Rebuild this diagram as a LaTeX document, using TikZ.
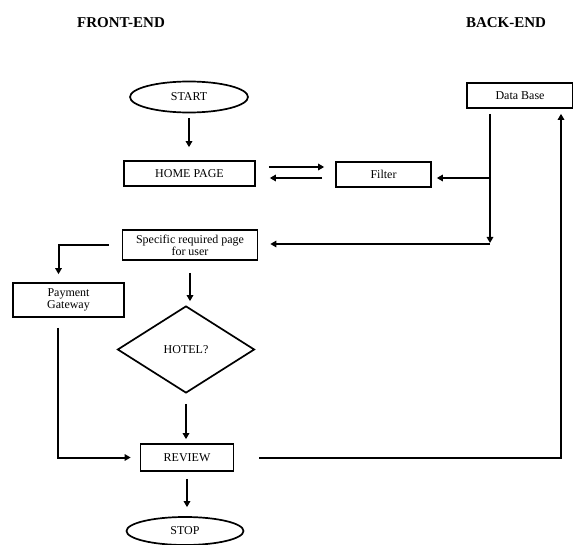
\documentclass[tikz,border=0pt]{standalone}
\usepackage{fontspec}
\setmainfont{Liberation Serif}
\usetikzlibrary{arrows.meta,positioning,shapes.geometric}

\begin{document}
\begin{tikzpicture}[x=1pt,y=-1pt,
  box/.style={draw,line width=1.7pt,inner sep=0pt,align=center,font=\fontsize{12}{12}\selectfont},
  oval/.style={ellipse,draw,line width=1.7pt,inner sep=0pt,font=\fontsize{12}{12}\selectfont},
  arr/.style={line width=2pt,-{Triangle[length=6pt,width=6.5pt]}},
  head/.style={font=\fontsize{15}{15}\selectfont\bfseries}]
\useasboundingbox (0,0) rectangle (573,545);
% Headings
\node[head] (front) at (121,23) {FRONT-END};
\node[head] (back) at (506,23) {BACK-END};
% Front-end column
\node[oval,minimum width=118pt,minimum height=31pt] (start) at (189,97) {START};
\node[box,minimum width=131pt,minimum height=25pt] (home) at (189.5,173.5) {HOME PAGE};
\node[box,minimum width=135pt,minimum height=30pt] (spec) at (190,245) {Specific required page\\for user};
\node[box,minimum width=111pt,minimum height=34pt] (pay) at (68.5,300) {Payment\\Gateway};
\node[diamond,draw,line width=1.7pt,inner sep=0pt,minimum width=137pt,minimum height=87pt,font=\fontsize{12}{12}\selectfont] (hotel) at (186,349.5) {HOTEL?};
\node[box,minimum width=93pt,minimum height=27pt] (review) at (187,457.5) {REVIEW};
\node[oval,minimum width=117pt,minimum height=28pt] (stop) at (185,531) {STOP};
% Back-end column
\node[box,minimum width=95pt,minimum height=25pt] (filter) at (383.5,174.5) {Filter};
\node[box,minimum width=106pt,minimum height=25pt] (db) at (520,95.5) {Data Base};
\coordinate (tap) at (490,178);
\coordinate (tee) at (490,244);
% Arrows
\draw[arr,shorten <=5pt,shorten >=13pt] (start.south) -- (start.south |- home.north);
\draw[arr,shorten <=13pt,shorten >=11pt] ([yshift=6.5pt]home.east) -- ([yshift=6.5pt]home.east -| filter.west);
\draw[arr,shorten <=13pt,shorten >=14pt] ([yshift=-3.5pt]filter.west) -- ([yshift=-3.5pt]filter.west -| home.east);
\draw[arr,shorten <=5pt,shorten >=1pt] (db.south -| tap) -- (tee);
\draw[arr,shorten >=5pt] (tap) -- (tap -| filter.east);
\draw[arr,shorten >=12pt] (tee) -- (tee -| spec.east);
\draw[arr,shorten <=13pt,shorten >=8pt] (spec.west) -| ([xshift=-10pt]pay.north);
\draw[arr,shorten <=12pt,shorten >=4pt] (spec.south) -- (spec.south |- hotel.north);
\draw[arr,shorten <=10pt,shorten >=4pt] (hotel.south) -- (hotel.south |- review.north);
\draw[arr,shorten <=10pt,shorten >=9pt] ([xshift=-11pt]pay.south) |- (review.west);
\draw[arr,shorten <=25pt,shorten >=5pt] (review.east) -| ([xshift=41pt]db.south);
\draw[arr,shorten <=7pt,shorten >=9pt] (review.south) -- (review.south |- stop.north);
\end{tikzpicture}
\end{document}
